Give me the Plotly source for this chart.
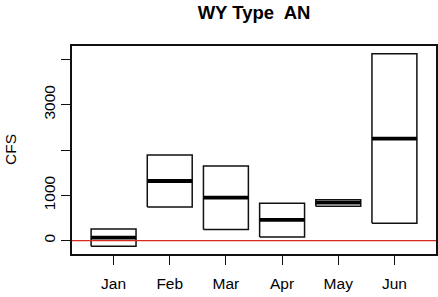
import plotly.graph_objects as go

months = ["Jan", "Feb", "Mar", "Apr", "May", "Jun"]
lower = [-125, 743, 243, 81, 757, 382]
median = [66, 1316, 949, 456, 838, 2250]
upper = [258, 1890, 1647, 823, 904, 4125]

y_ticks = [0, 1000, 2000, 3000, 4000]
y_ticktext = ["0", "1000", "", "3000", ""]

FONT = "Liberation Sans, Arial, Helvetica, sans-serif"
half = 0.4

fig = go.Figure()
for i, m in enumerate(months):
    xc = i + 1
    fig.add_trace(go.Scatter(
        x=[xc - half, xc + half, xc + half, xc - half, xc - half],
        y=[lower[i], lower[i], upper[i], upper[i], lower[i]],
        mode="lines", line=dict(color="#111111", width=1.5),
        hoverinfo="skip", showlegend=False))
    fig.add_trace(go.Scatter(
        x=[xc - half, xc + half], y=[median[i], median[i]],
        mode="lines", line=dict(color="#000000", width=3.8),
        name=m, showlegend=False))

fig.add_shape(type="line", xref="paper", x0=0, x1=1, yref="y", y0=0, y1=0,
              line=dict(color="#d42a20", width=1.2), layer="above")

fig.update_layout(
    width=438, height=297,
    margin=dict(l=72, r=2, t=46, b=43, autoexpand=False),
    paper_bgcolor="white", plot_bgcolor="white",
    font=dict(family=FONT, size=15, color="black"),
    title=dict(text="<b>WY Type  AN</b>", x=0.5, xref="paper",
               y=1 - 13 / 297, yref="container", xanchor="center", yanchor="middle",
               font=dict(family=FONT, size=18.5, color="black")),
    xaxis=dict(range=[0.26, 6.74], tickvals=list(range(1, 7)), ticktext=months,
               ticks="outside", ticklen=9, tickwidth=1.2, tickcolor="#111",
               ticklabelstandoff=6,
               showline=True, linecolor="#111", linewidth=1.5, mirror=True,
               showgrid=False, zeroline=False, fixedrange=True, automargin=False,
               tickfont=dict(size=15.5, color="black")),
    yaxis=dict(range=[-295, 4295], tickvals=y_ticks, ticktext=y_ticktext,
               ticks="outside", ticklen=9, tickwidth=1.2, tickcolor="#111",
               tickangle=-90,
               showline=True, linecolor="#111", linewidth=1.5, mirror=True,
               showgrid=False, zeroline=False, fixedrange=True, automargin=False,
               tickfont=dict(size=15.5, color="black")),
    annotations=[dict(text="CFS", xref="paper", yref="paper", x=0, y=0.5,
                      xanchor="center", yanchor="middle", xshift=-62,
                      textangle=-90, showarrow=False,
                      font=dict(family=FONT, size=15.5, color="black"))],
)

fig.write_html("out.html", config={"displayModeBar": False},
               post_script="document.body.style.margin='0';document.body.style.padding='0';")
